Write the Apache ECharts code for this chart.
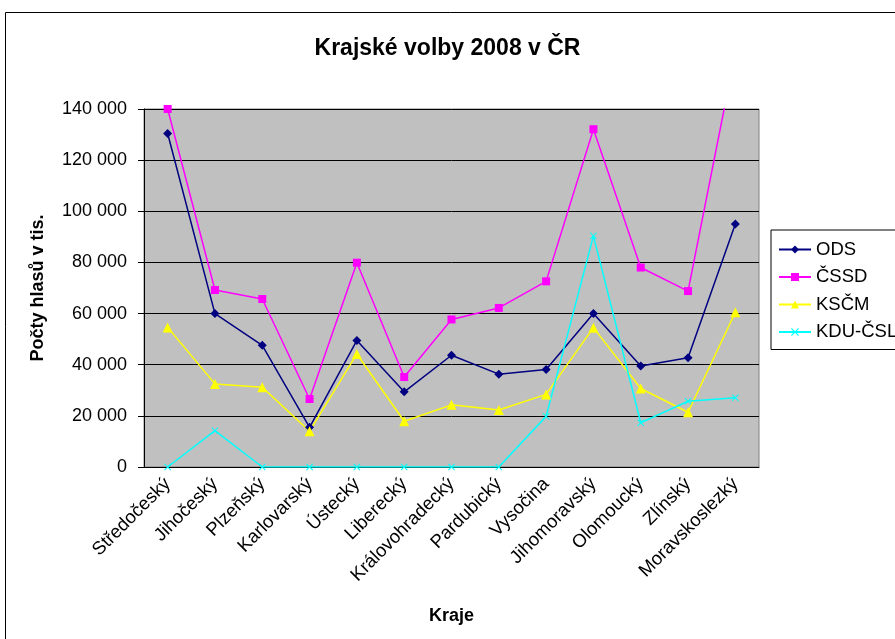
<!DOCTYPE html>
<html>
<head>
<meta charset="utf-8">
<script src="https://cdn.jsdelivr.net/npm/echarts@6/dist/echarts.min.js"></script>
<style>
  html, body { margin: 0; padding: 0; background: #fff; }
  #chart { width: 895px; height: 639px; }
</style>
</head>
<body>
<div id="chart"></div>
<script>
  // kraje
  var kraje = ['Středočeský', 'Jihočeský', 'Plzeňský', 'Karlovarský', 'Ústecký', 'Liberecký',
    'Královohradecký', 'Pardubický', 'Vysočina', 'Jihomoravský', 'Olomoucký', 'Zlínský', 'Moravskoslezký'];

  // hlasy podle stran
  var ods = [130400, 60000, 47600, 15500, 49500, 29400, 43700, 36300, 38100, 60000, 39500, 42700, 95000];
  var cssd = [140000, 69200, 65700, 26600, 79900, 35200, 57700, 62200, 72600, 132100, 78000, 68800, 162000];
  var kscm = [54600, 32500, 31200, 14000, 44200, 17900, 24300, 22300, 28400, 54500, 30700, 21400, 60500];
  var kdu = [0, 14200, 0, 0, 0, 0, 0, 0, 19800, 90400, 17300, 25700, 27100];

  var xMark = 'path://M0,1L1,0L5,4L9,0L10,1L6,5L10,9L9,10L5,6L1,10L0,9L4,5Z';
  var font = 'Liberation Sans, Arial, sans-serif';

  function fmt(v) {
    return String(v).replace(/\B(?=(\d{3})+(?!\d))/g, ' ');
  }

  var myChart = echarts.init(document.getElementById('chart'));
  var option = {
    animation: false,
    textStyle: { fontFamily: font },
    title: {
      text: 'Krajské volby 2008 v ČR',
      left: 'center',
      top: 32,
      textStyle: { fontSize: 23, fontWeight: 'bold', color: '#000', fontFamily: font }
    },
    graphic: [{
      type: 'rect',
      shape: { x: 5.5, y: 12.5, width: 1000, height: 1000 },
      style: { fill: 'none', stroke: '#000', lineWidth: 1 },
      silent: true
    }],
    legend: {
      orient: 'vertical',
      left: 771,
      top: 230,
      padding: [10, 40, 8, 7],
      itemGap: 8.5,
      itemWidth: 32,
      itemHeight: 10,
      borderColor: '#000',
      borderWidth: 1,
      textStyle: { fontSize: 18.5, color: '#000', fontFamily: font },
      data: ['ODS', 'ČSSD', 'KSČM', 'KDU-ČSL']
    },
    grid: {
      left: 144,
      top: 109,
      width: 615,
      height: 358,
      show: true,
      backgroundColor: '#C0C0C0',
      borderColor: '#808080',
      borderWidth: 1
    },
    xAxis: {
      type: 'category',
      data: kraje,
      name: 'Kraje',
      nameLocation: 'middle',
      nameGap: 140,
      nameTextStyle: { fontSize: 18, fontWeight: 'bold', color: '#000' },
      axisLine: { lineStyle: { color: '#000', width: 1 } },
      axisTick: { length: 6, lineStyle: { color: '#000' } },
      axisLabel: { rotate: 45, interval: 0, fontSize: 18.5, color: '#000', margin: 14 }
    },
    yAxis: {
      type: 'value',
      min: 0,
      max: 140000,
      interval: 20000,
      name: 'Počty hlasů v tis.',
      nameLocation: 'middle',
      nameGap: 97,
      nameTextStyle: { fontSize: 18, fontWeight: 'bold', color: '#000' },
      axisLine: { show: true, lineStyle: { color: '#000', width: 1 } },
      axisTick: { show: true, length: 6, lineStyle: { color: '#000' } },
      axisLabel: { fontSize: 18, color: '#000', margin: 17, formatter: fmt },
      splitLine: { lineStyle: { color: '#000', width: 1 } }
    },
    series: [{
      name: 'ODS',
      type: 'line',
      data: ods,
      symbol: 'diamond',
      symbolSize: 9,
      lineStyle: { color: '#000080', width: 1.5 },
      itemStyle: { color: '#000080' }
    }, {
      name: 'ČSSD',
      type: 'line',
      data: cssd,
      symbol: 'rect',
      symbolSize: 8,
      lineStyle: { color: '#FF00FF', width: 1.5 },
      itemStyle: { color: '#FF00FF' }
    }, {
      name: 'KSČM',
      type: 'line',
      data: kscm,
      symbol: 'triangle',
      symbolSize: 10,
      lineStyle: { color: '#FFFF00', width: 1.5 },
      itemStyle: { color: '#FFFF00' }
    }, {
      name: 'KDU-ČSL',
      type: 'line',
      data: kdu,
      symbol: xMark,
      symbolSize: 7,
      lineStyle: { color: '#00FFFF', width: 1.5 },
      itemStyle: { color: '#00FFFF' }
    }]
  };
  myChart.setOption(option);
</script>
</body>
</html>
